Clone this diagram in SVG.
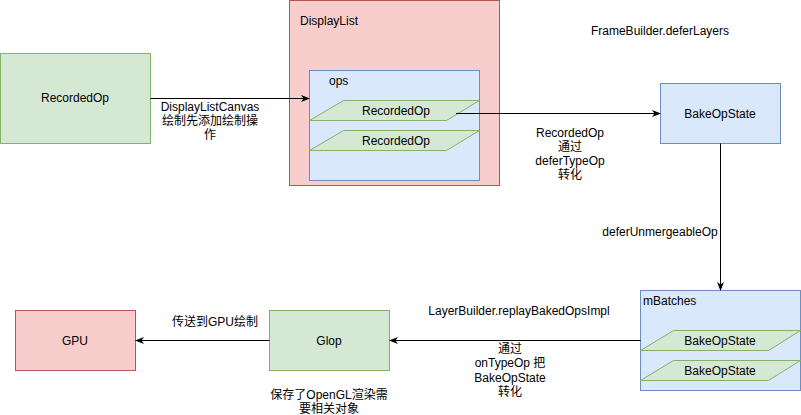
<svg xmlns="http://www.w3.org/2000/svg" width="801" height="415" viewBox="0 0 801 415">
<style>
text{font-family:"Liberation Sans",Arial,"Noto Sans CJK SC",sans-serif;font-size:12px;fill:#000}
.c{text-anchor:middle}
.g{fill:#d5e8d4;stroke:#82b366;stroke-width:1}
.r{fill:#f8cecc;stroke:#b85450;stroke-width:1}
.b{fill:#dae8fc;stroke:#6c8ebf;stroke-width:1}
.e{fill:none;stroke:#000;stroke-width:1}
</style>
<defs>
<marker id="a" markerWidth="10" markerHeight="10" refX="9" refY="5" orient="auto" markerUnits="userSpaceOnUse">
<path d="M1,1.5 L10,5 L1,8.5 L3.5,5 Z" fill="#000"/>
</marker>
</defs>
<rect width="801" height="415" fill="#fff"/>
<g id="recordedOp">
<rect class="g" x="0.5" y="53.5" width="150" height="90"/>
<text class="c" x="75" y="102">RecordedOp</text>
</g>
<g id="displayList">
<rect class="r" x="289.5" y="0.5" width="210" height="185"/>
<text x="300" y="25">DisplayList</text>
</g>
<g id="ops">
<rect class="b" x="309.5" y="70.5" width="170" height="110"/>
<text x="329" y="85">ops</text>
</g>
<g id="op1">
<path class="g" d="M343.5,100.5 L479.5,100.5 L446.5,120.5 L309.5,120.5 Z"/>
<text class="c" x="396" y="115">RecordedOp</text>
</g>
<g id="op2">
<path class="g" d="M343.5,130.5 L479.5,130.5 L446.5,150.5 L309.5,150.5 Z"/>
<text class="c" x="396" y="145">RecordedOp</text>
</g>
<g id="bakeOpState">
<rect class="b" x="660.5" y="83.5" width="120" height="60"/>
<text class="c" x="720" y="118">BakeOpState</text>
</g>
<g id="mBatches">
<rect class="b" x="640.5" y="290.5" width="160" height="100"/>
<text x="643" y="305">mBatches</text>
</g>
<g id="bake1">
<path class="g" d="M673.5,330.5 L800.5,330.5 L768.5,350.5 L640.5,350.5 Z"/>
<text class="c" x="720" y="345">BakeOpState</text>
</g>
<g id="bake2">
<path class="g" d="M673.5,360.5 L800.5,360.5 L768.5,380.5 L640.5,380.5 Z"/>
<text class="c" x="720" y="375">BakeOpState</text>
</g>
<g id="glop">
<rect class="g" x="269.5" y="310.5" width="120" height="60"/>
<text class="c" x="329" y="345">Glop</text>
</g>
<g id="gpu">
<rect class="r" x="15.5" y="310.5" width="120" height="60"/>
<text class="c" x="75" y="345">GPU</text>
</g>
<g id="connectors">
<path class="e" d="M150.5,98.5 L309,98.5" marker-end="url(#a)"/>
<path class="e" d="M456,113.5 L660,113.5" marker-end="url(#a)"/>
<path class="e" d="M720.5,143.5 L720.5,290" marker-end="url(#a)"/>
<path class="e" d="M640.5,340.5 L390,340.5" marker-end="url(#a)"/>
<path class="e" d="M269.5,340.5 L136,340.5" marker-end="url(#a)"/>
</g>
<g id="labels">
<text class="c" x="210" y="111">DisplayListCanvas</text>
<text class="c" x="210" y="125">绘制先添加绘制操</text>
<text class="c" x="210" y="139">作</text>
<text class="c" x="660" y="35">FrameBuilder.deferLayers</text>
<text class="c" x="570" y="137">RecordedOp</text>
<text class="c" x="570" y="151">通过</text>
<text class="c" x="570" y="165">deferTypeOp</text>
<text class="c" x="570" y="179">转化</text>
<text class="c" x="660" y="236">deferUnmergeableOp</text>
<text class="c" x="519" y="315">LayerBuilder.replayBakedOpsImpl</text>
<text class="c" x="510" y="353">通过</text>
<text class="c" x="510" y="367">onTypeOp 把</text>
<text class="c" x="510" y="382">BakeOpState</text>
<text class="c" x="510" y="396">转化</text>
<text class="c" x="215" y="326">传送到GPU绘制</text>
<text class="c" x="329" y="399">保存了OpenGL渲染需</text>
<text class="c" x="329" y="413">要相关对象</text>
</g>
</svg>
